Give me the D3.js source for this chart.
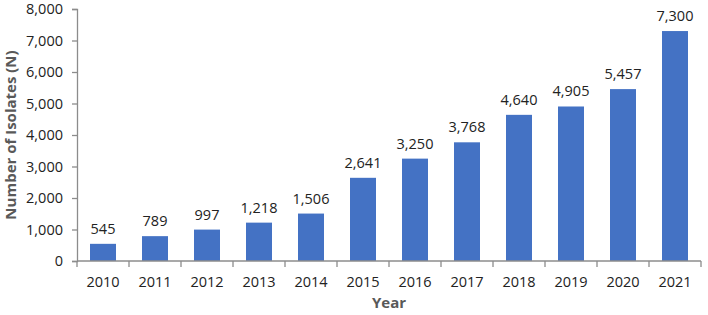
<!DOCTYPE html>
<html lang="en">
<head>
<meta charset="UTF-8">
<title>Isolates per year</title>
<script src="https://cdn.jsdelivr.net/npm/d3@7/dist/d3.min.js"></script>
<style>
body { margin: 0; background: #fff; }
svg text { font-family: "Open Sans", "DejaVu Sans", sans-serif; }
.axis path, .axis line { stroke: #8c8c8c; stroke-width: 1.3; }
.axis text { fill: #222; font-size: 14.5px; }
.lbl { fill: #222; font-size: 14.5px; }
.title { fill: #595959; font-size: 15px; font-weight: bold; }
</style>
</head>
<body>
<div id="chart"></div>
<script>
var years = ['2010','2011','2012','2013','2014','2015','2016','2017','2018','2019','2020','2021'];
var isolates = [545, 789, 997, 1218, 1506, 2641, 3250, 3768, 4640, 4905, 5457, 7300];
var yTicks = [0, 1000, 2000, 3000, 4000, 5000, 6000, 7000, 8000];

var w = 708, h = 315;
var m = {top: 9, right: 7, bottom: 54, left: 77};

var svg = d3.select("#chart").append("svg")
  .attr("width", w).attr("height", h);

var x = d3.scaleBand().domain(years)
  .range([m.left, w - m.right]).paddingInner(0.5).paddingOuter(0.25);
var y = d3.scaleLinear().domain([0, 8000]).range([h - m.bottom, m.top]);

// bars
svg.selectAll("rect.bar").data(years).enter().append("rect")
  .attr("class", "bar")
  .attr("x", function(d) { return x(d); })
  .attr("width", x.bandwidth())
  .attr("y", function(d, i) { return y(isolates[i]); })
  .attr("height", function(d, i) { return y(0) - y(isolates[i]); })
  .attr("fill", "#4472c4");

// value labels
svg.selectAll("text.lbl").data(years).enter().append("text")
  .attr("class", "lbl")
  .attr("x", function(d) { return x(d) + x.bandwidth() / 2; })
  .attr("y", function(d, i) { return y(isolates[i]) - 10; })
  .attr("text-anchor", "middle")
  .text(function(d, i) { return d3.format(",")(isolates[i]); });

// y axis
svg.append("g").attr("class", "axis")
  .attr("transform", "translate(" + m.left + ",0)")
  .call(d3.axisLeft(y).tickValues(yTicks).tickFormat(d3.format(",")).tickSizeOuter(0).tickSize(5).tickPadding(9));

// x axis: ticks between categories
var step = x.step();
var xa = svg.append("g").attr("class", "axis")
  .attr("transform", "translate(0," + y(0) + ")");
xa.append("line").attr("x1", m.left).attr("x2", w - m.right).attr("y1", 0).attr("y2", 0);
xa.selectAll("line.tk").data(d3.range(years.length + 1)).enter().append("line")
  .attr("class", "tk")
  .attr("x1", function(i) { return m.left + i * step; })
  .attr("x2", function(i) { return m.left + i * step; })
  .attr("y1", 0).attr("y2", 6);
xa.selectAll("text").data(years).enter().append("text")
  .attr("x", function(d) { return x(d) + x.bandwidth() / 2; })
  .attr("y", 26)
  .attr("text-anchor", "middle")
  .text(function(d) { return d; });

// axis titles
svg.append("text").attr("class", "title")
  .attr("x", (m.left + w - m.right) / 2).attr("y", 308)
  .attr("text-anchor", "middle").text("Year");
svg.append("text").attr("class", "title")
  .attr("transform", "translate(16," + ((m.top + h - m.bottom) / 2) + ") rotate(-90)")
  .attr("text-anchor", "middle").text("Number of Isolates (N)");
</script>
</body>
</html>
